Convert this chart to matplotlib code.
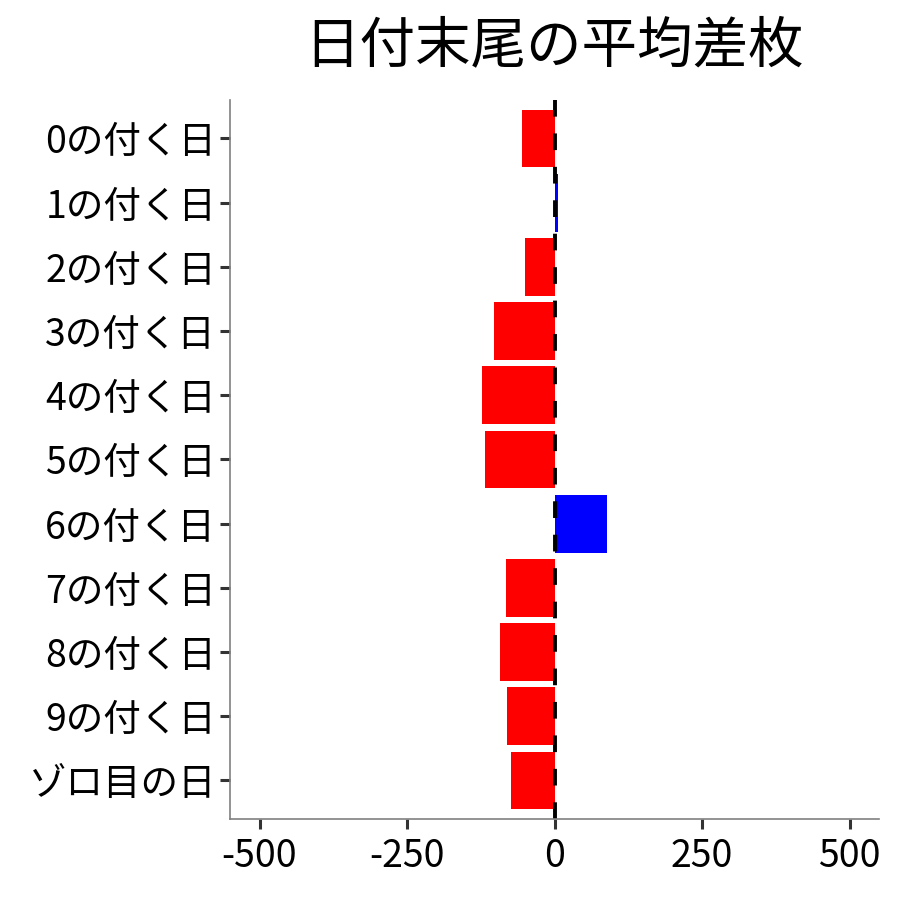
import matplotlib
matplotlib.use("Agg")
import matplotlib.pyplot as plt

categories = ["0の付く日", "1の付く日", "2の付く日", "3の付く日", "4の付く日",
              "5の付く日", "6の付く日", "7の付く日", "8の付く日", "9の付く日",
              "ゾロ目の日"]
values = [-55, 6, -50, -102, -123, -118, 89, -83, -93, -81, -73]
xticks = [-500, -250, 0, 250, 500]


def main():
    plt.rcParams['font.family'] = ['Noto Sans CJK JP', 'DejaVu Sans']

    fig = plt.figure(figsize=(9, 9), dpi=100)
    ax = fig.add_axes([0.2556, 0.09, 0.7211, 0.799])

    colors = ['blue' if v > 0 else 'red' for v in values]
    ypos = list(range(len(categories)))
    ax.barh(ypos, values, height=0.9, color=colors)
    ax.axvline(0, color='black', linestyle=(0, (4.3, 4.3)), linewidth=2.8)

    ax.set_xlim(-550, 550)
    ax.set_ylim(len(categories) - 0.4, -0.6)
    ax.set_xticks(xticks)
    ax.set_xticklabels([str(t) for t in xticks])
    ax.set_yticks(ypos)
    ax.set_yticklabels(categories)

    ax.tick_params(axis='both', labelsize=27, colors='#333333',
                   length=7, width=2.2, labelcolor='black', pad=3)
    ax.tick_params(axis='x', pad=6)
    for side in ['top', 'right']:
        ax.spines[side].set_visible(False)
    for side in ['left', 'bottom']:
        ax.spines[side].set_color('#808080')
        ax.spines[side].set_linewidth(1.2)

    fig.text(0.615, 0.948, "日付末尾の平均差枚", ha='center', va='center',
             fontsize=40)

    fig.savefig("out.png", dpi=100)


if __name__ == "__main__":
    main()
